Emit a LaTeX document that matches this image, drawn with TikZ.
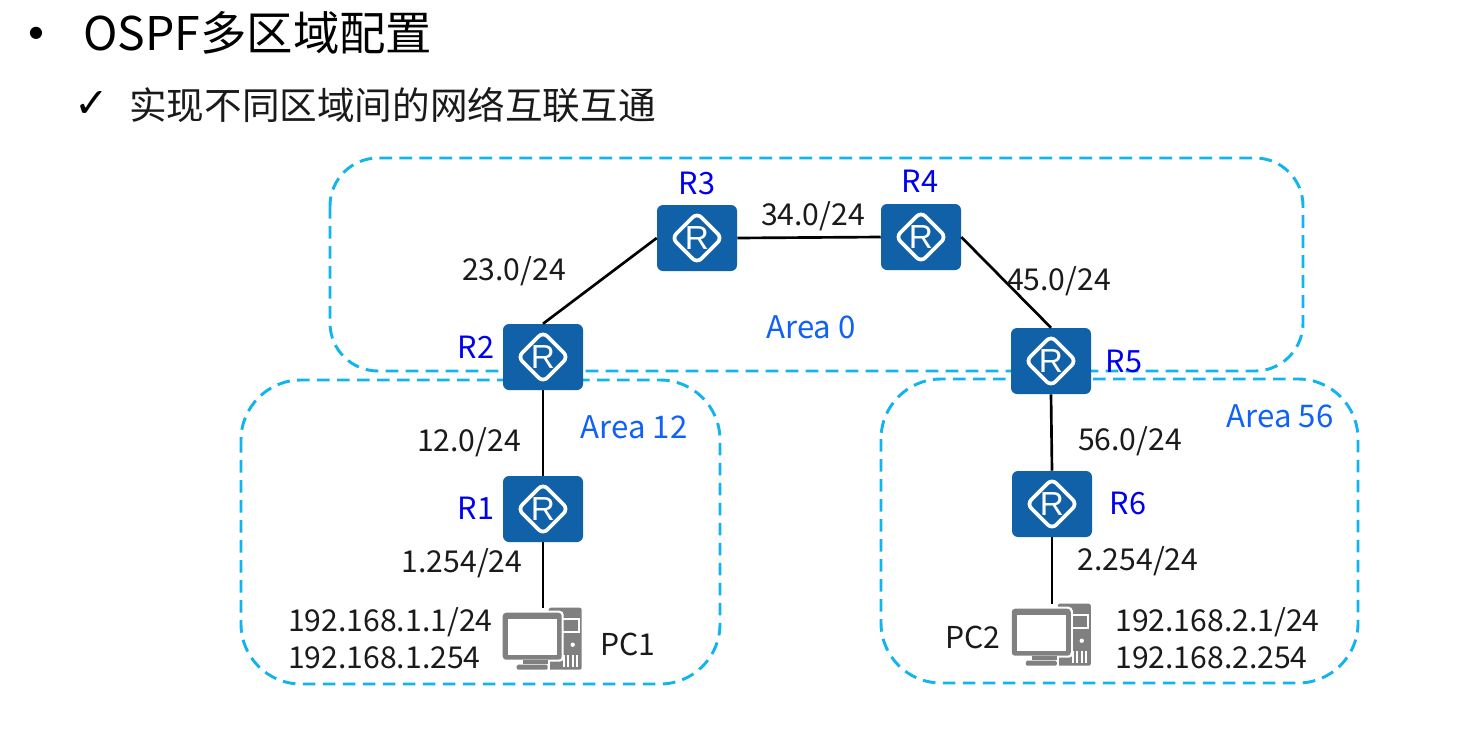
\documentclass[tikz,border=0pt]{standalone}
\usepackage{fontspec}
\setmainfont{Noto Sans CJK SC}
\newfontfamily\symfont{DejaVu Sans}
\newfontfamily\rfont{Liberation Sans}
\definecolor{routerblue}{HTML}{1161A8}
\definecolor{areadash}{HTML}{12B4F0}
\definecolor{labelblue}{HTML}{0000F0}
\definecolor{areatext}{HTML}{0F62F5}
\definecolor{pcgray}{HTML}{808080}
\definecolor{inktext}{HTML}{1A1A1A}
\tikzset{
  x=0.75pt,y=-0.75pt,
  areabox/.style={draw=areadash,line width=2.2pt,dash pattern=on 9.5pt off 5.5pt},
  link/.style={draw=black,line width=2pt},
  routerbox/.style={rectangle,rounded corners=4.5pt,fill=routerblue,text=white,
    minimum width=60pt,minimum height=49.5pt,inner sep=0pt,
    font=\rfont\fontsize{25}{27}\selectfont,
    path picture={\draw[white,line width=2.8pt,line join=miter]
      ([shift={(-25,0)}]path picture bounding box.center)--
      ([shift={(0,-25)}]path picture bounding box.center)--
      ([shift={(25,0)}]path picture bounding box.center)--
      ([shift={(0,25)}]path picture bounding box.center)--cycle;}},
  pcbox/.style={rectangle,minimum width=60pt,minimum height=46.5pt,inner sep=0pt},
  rname/.style={text=labelblue,inner sep=0pt,font=\fontsize{23}{27}\selectfont},
  net/.style={text=inktext,inner sep=0pt,font=\fontsize{22.6}{27}\selectfont},
  areaname/.style={text=areatext,inner sep=0pt,font=\fontsize{23.4}{28}\selectfont},
  pcicon/.pic={
    \fill[pcgray,rounded corners=1.5pt] (46,0) rectangle (79,62);
    \draw[white,line width=1.2pt] (50,11) rectangle (76,24);
    \fill[white] (70,37) circle (2.2);
    \foreach \vx in {60,64.5,69,73.5}{\fill[white] (\vx,47) rectangle (\vx+2,59);}
    \fill[white,rounded corners=3pt] (-2,3) rectangle (61,54);
    \fill[pcgray,rounded corners=2.5pt] (0,5) rectangle (59,52);
    \fill[white] (5,11) rectangle (54,47);
    \fill[white] (18,52) rectangle (47,57);
    \fill[pcgray] (20,52) rectangle (45,57);
    \fill[white] (12,56) rectangle (47,62);
    \fill[pcgray,rounded corners=1pt] (14,57) rectangle (45,62);
  }
}
\begin{document}
\begin{tikzpicture}
\useasboundingbox (0,0) rectangle (1476,732);
% titles
\node[anchor=center,inner sep=0pt,font=\symfont\fontsize{12}{14}\selectfont] (bullet) at (36,33) {●};
\node[anchor=west,inner sep=0pt,font=\fontsize{34.8}{40}\selectfont] (title) at (83,33) {OSPF多区域配置};
\node[anchor=center,inner sep=0pt,font=\symfont\fontsize{31}{36}\selectfont] (check) at (92,104) {✓};
\node[anchor=west,inner sep=0pt,text=inktext,font=\fontsize{28.2}{33}\selectfont] (sub) at (129,105) {实现不同区域间的网络互联互通};
% areas
\draw[areabox,rounded corners=36pt] (330,158) rectangle (1303,371);
\draw[areabox,rounded corners=45pt] (241,380) rectangle (720,684);
\draw[areabox,rounded corners=45pt] (881,379) rectangle (1358,683);
% routers
\node[routerbox] (r2) at (543,357) {R};
\node[routerbox] (r3) at (697,238) {R};
\node[routerbox] (r4) at (921,237) {R};
\node[routerbox] (r5) at (1051,361) {R};
\node[routerbox] (r1) at (543,509) {R};
\node[routerbox] (r6) at (1052,504) {R};
\node[pcbox] (pc1) at (543,639) {};
\node[pcbox] (pc2) at (1052,635) {};
\pic at (pc1.north west) {pcicon};
\pic at (pc2.north west) {pcicon};
% links
\draw[link] (r2.north) -- (r3.west);
\draw[link] (r3.east) -- (r4.west);
\draw[link] (r4.east) -- (r5.north);
\draw[link] (r2.south) -- (r1.north);
\draw[link] (r5.south) -- (r6.north);
\draw[link] (r1.south) -- (pc1.north);
\draw[link] (r6.south) -- (pc2.north);
% router names
\node[rname] (lr3) at (697,183) {R3};
\node[rname] (lr4) at (920,181) {R4};
\node[rname] (lr2) at (476,347) {R2};
\node[rname] (lr5) at (1124,361) {R5};
\node[rname] (lr1) at (476,508) {R1};
\node[rname] (lr6) at (1128,503) {R6};
% networks
\node[net] (n23) at (514,271) {23.0/24};
\node[net] (n34) at (813,216) {34.0/24};
\node[net] (n45) at (1059,281) {45.0/24};
\node[net] (n12) at (469,442) {12.0/24};
\node[net] (n56) at (1130,441) {56.0/24};
\node[net] (n1) at (462,563) {1.254/24};
\node[net] (n2) at (1138,561) {2.254/24};
\node[net,anchor=west] (ip1) at (288,622) {192.168.1.1/24};
\node[net,anchor=west] (gw1) at (288,658) {192.168.1.254};
\node[net,anchor=west] (ip2) at (1115,622) {192.168.2.1/24};
\node[net,anchor=west] (gw2) at (1115,658) {192.168.2.254};
\node[net] (lpc1) at (628,644) {PC1};
\node[net] (lpc2) at (973,637) {PC2};
% areas' names
\node[areaname] (a0) at (811,327) {Area 0};
\node[areaname] (a12) at (634,427) {Area 12};
\node[areaname] (a56) at (1280,416) {Area 56};
\end{tikzpicture}
\end{document}
